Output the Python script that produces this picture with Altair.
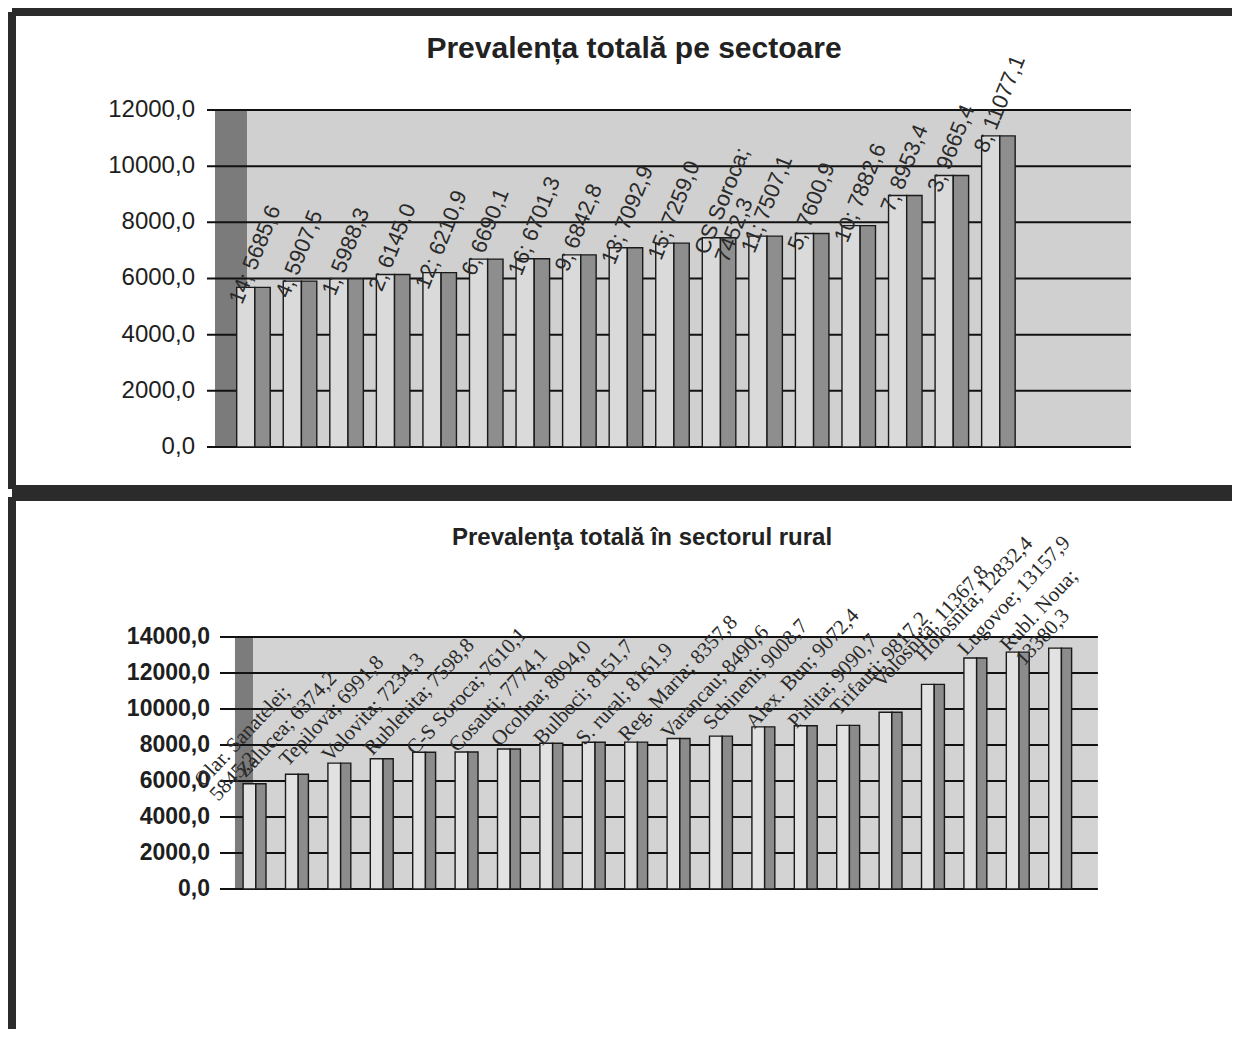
import altair as alt
import pandas as pd

# ---------------- data ----------------
top_names = ["14", "4", "1", "2", "12", "6", "16", "9", "13", "15", "CS Soroca",
             "11", "5", "10", "7", "3", "8"]
top_values = [5685.6, 5907.5, 5988.3, 6145.0, 6210.9, 6690.1, 6701.3, 6842.8,
              7092.9, 7259.0, 7452.3, 7507.1, 7600.9, 7882.6, 8953.4, 9665.4, 11077.1]
top_two_line = ["CS Soroca"]
top_ticks = [0, 2000, 4000, 6000, 8000, 10000, 12000]
top_title = "Prevalența totală pe sectoare"

rural_names = ["Olar. Sanatelei", "Zalucea", "Tepilova", "Volovita", "Rublenita",
               "C-S Soroca", "Cosauti", "Ocolina", "Bulboci", "S. rural",
               "Reg. Maria", "Varancau", "Schineni", "Alex. Bun", "Pirlita",
               "Trifauti", "Volosnita", "Holosnita", "Lugovoe", "Rubl. Noua"]
rural_values = [5845.2, 6374.2, 6991.8, 7234.3, 7598.8, 7610.1, 7774.1, 8094.0,
                8151.7, 8161.9, 8357.8, 8490.6, 9008.7, 9072.4, 9090.7, 9817.2,
                11367.8, 12832.4, 13157.9, 13380.3]
rural_two_line = ["Olar. Sanatelei", "Rubl. Noua"]
rural_ticks = [0, 2000, 4000, 6000, 8000, 10000, 12000, 14000]
rural_title = "Prevalenţa totală  în sectorul rural"

SANS = "Liberation Sans, Arial, sans-serif"
SERIF = "Liberation Serif, Times New Roman, serif"
W = 1228


def comma(v):
    return f"{v:.1f}".replace(".", ",")


def make_panel(names, values, two_line, ticks, title, g):
    n = len(names)
    df = pd.DataFrame({
        "i": list(range(n)),
        "value": values,
        "label": [nm + (";\n" if nm in two_line else "; ") + comma(v)
                  for nm, v in zip(names, values)],
    })
    df["x_l"] = df["i"] + g["bar_l"]
    df["x_m"] = df["i"] + g["bar_m"]
    df["x_r"] = df["i"] + g["bar_r"]
    df["zero"] = 0

    xs = alt.Scale(domain=g["xdom"], nice=False, zero=False)
    ys = alt.Scale(domain=g["ydom"], nice=False, zero=False)

    area = pd.DataFrame({"x": [g["plot_l"]], "x2": [g["plot_r"]], "xs": [g["strip_r"]],
                         "y": [0], "y2": [ticks[-1]]})
    grid = pd.DataFrame({"t": ticks, "xa": g["grid_l"], "xb": g["plot_r"],
                         "lab": [comma(t) for t in ticks]})

    bg = alt.Chart(area).mark_rect(color=g["area_col"]).encode(
        x=alt.X("x:Q", scale=xs, axis=None), x2="x2:Q",
        y=alt.Y("y:Q", scale=ys, axis=None), y2="y2:Q")
    strip = alt.Chart(area).mark_rect(color=g["strip_col"]).encode(
        x=alt.X("x:Q", scale=xs, axis=None), x2="xs:Q",
        y=alt.Y("y:Q", scale=ys, axis=None), y2="y2:Q")
    gl = alt.Chart(grid).mark_rule(color="#111111", strokeWidth=g["grid_w"]).encode(
        x=alt.X("xa:Q", scale=xs, axis=None), x2="xb:Q",
        y=alt.Y("t:Q", scale=ys, axis=None))
    ylab = alt.Chart(grid).mark_text(align="right", baseline="middle", dx=g["lab_dx"],
                                     font=SANS, fontSize=g["axis_fs"],
                                     fontWeight=g["axis_fw"], color="#1e1e1e").encode(
        x=alt.X("xa:Q", scale=xs, axis=None),
        y=alt.Y("t:Q", scale=ys, axis=None), text="lab:N")
    light = alt.Chart(df).mark_rect(color=g["light_col"], stroke="#1a1a1a",
                                    strokeWidth=1.4).encode(
        x=alt.X("x_l:Q", scale=xs, axis=None), x2="x_m:Q",
        y=alt.Y("value:Q", scale=ys, axis=None), y2="zero:Q")
    dark = alt.Chart(df).mark_rect(color=g["dark_col"], stroke="#1a1a1a",
                                   strokeWidth=1.4).encode(
        x=alt.X("x_m:Q", scale=xs, axis=None), x2="x_r:Q",
        y=alt.Y("value:Q", scale=ys, axis=None), y2="zero:Q")
    labels = alt.Chart(df).mark_text(align="left", baseline="alphabetic",
                                     angle=g["angle"], font=g["lab_font"],
                                     fontSize=g["lab_fs"], color="#2a2a2a",
                                     lineBreak="\n", lineHeight=g["lab_fs"],
                                     xOffset=g["xoff"], yOffset=g["yoff"]).encode(
        x=alt.X("i:Q", scale=xs, axis=None),
        y=alt.Y("value:Q", scale=ys, axis=None), text="label:N")

    H = g["H"]
    one = pd.DataFrame({"k": [0]})
    ttl = alt.Chart(pd.DataFrame({"t": [title]})).mark_text(
        align="center", baseline="alphabetic", font=SANS, fontSize=g["title_fs"],
        fontWeight="bold", color="#222222").encode(
        x=alt.value(g["title_x"]), y=alt.value(g["title_y"]), text="t:N")
    frame = []
    frame.append(alt.Chart(one).mark_rule(color="#2b2b2b", strokeWidth=8).encode(
        x=alt.value(4), x2=alt.value(W - 4), y=alt.value(4)))
    frame.append(alt.Chart(one).mark_rule(color="#2b2b2b", strokeWidth=8).encode(
        x=alt.value(4), y=alt.value(4), y2=alt.value(H - 4)))
    if g["bottom_line"]:
        frame.append(alt.Chart(one).mark_rule(color="#2b2b2b", strokeWidth=8).encode(
            x=alt.value(4), x2=alt.value(W - 4), y=alt.value(H - 4)))

    return alt.layer(bg, strip, gl, ylab, light, dark, labels, ttl, *frame).properties(
        width=W, height=H)


# layout of top panel (pixel mapping: x = 253 + 46.56*i, y = 447 - 0.028083*v),
# view spans page x 8..1236, page y 8..493
g_top = dict(H=485, xdom=[-5.262, 21.113], ydom=[-1638, 15632],
             plot_l=-0.816, plot_r=18.857, strip_r=-0.129, grid_l=-0.988,
             bar_l=-0.35, bar_m=0.04, bar_r=0.37,
             area_col="#d0d0d0", strip_col="#7b7b7b", light_col="#dadada",
             dark_col="#8e8e8e", grid_w=2, lab_dx=-12, axis_fs=24, axis_fw="normal",
             angle=292, lab_font=SANS, lab_fs=22, xoff=-11, yoff=18,
             title_x=626, title_y=50, title_fs=30, bottom_line=True)

# layout of rural panel (pixel mapping: x = 255 + 42.4*i, y = 889 - 0.018*v),
# view spans page x 8..1236, page y 493..1033
g_rur = dict(H=540, xdom=[-5.825, 23.137], ydom=[-8000, 22000],
             plot_l=-0.472, plot_r=19.88, strip_r=-0.047, grid_l=-0.825,
             bar_l=-0.28, bar_m=0.02, bar_r=0.26,
             area_col="#d3d3d3", strip_col="#7c7c7c", light_col="#e2e2e2",
             dark_col="#8c8c8c", grid_w=2, lab_dx=-10, axis_fs=23, axis_fw="bold",
             angle=313, lab_font=SERIF, lab_fs=21, xoff=-52, yoff=4,
             title_x=634, title_y=52, title_fs=24, bottom_line=False)

top = make_panel(top_names, top_values, top_two_line, top_ticks, top_title, g_top)
rural = make_panel(rural_names, rural_values, rural_two_line, rural_ticks, rural_title, g_rur)

chart = alt.vconcat(top, rural, spacing=0).properties(
    padding=0, background="white"
).configure_view(strokeWidth=0)

chart.save("out.html", embed_options={"renderer": "svg", "actions": False})
